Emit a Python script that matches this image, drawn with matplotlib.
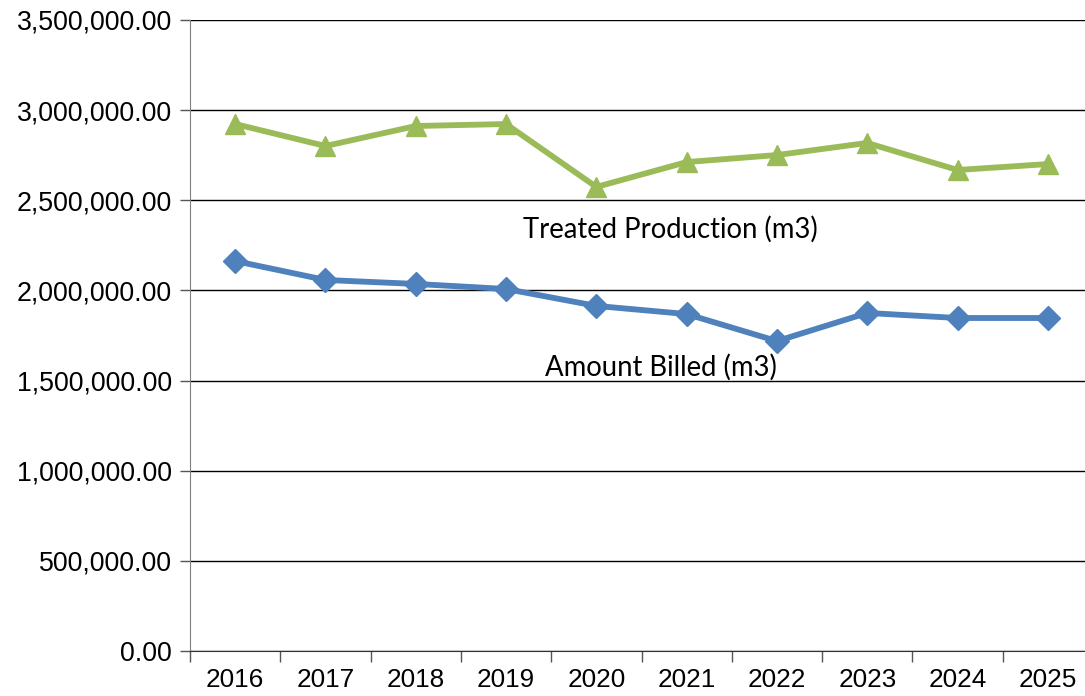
import matplotlib
matplotlib.use("Agg")
import matplotlib.pyplot as plt
from matplotlib.ticker import FuncFormatter, FixedLocator

plt.rcParams["font.family"] = ["Liberation Sans", "DejaVu Sans"]

years = ["2016", "2017", "2018", "2019", "2020", "2021", "2022", "2023", "2024", "2025"]
treated_production = [2923000, 2801000, 2912000, 2923000, 2574000, 2712000, 2751000, 2818000, 2668000, 2701000]
amount_billed = [2163000, 2058000, 2036000, 2008000, 1914000, 1869000, 1719000, 1875000, 1847000, 1847000]

fig = plt.figure(figsize=(10.85, 6.96), dpi=100)
ax = fig.add_axes([190/1085, 45/696, 903/1085, 631/696])

x = list(range(len(years)))
ax.plot(x, amount_billed, color="#4F81BD", lw=4.2, marker="D", ms=12.5, zorder=3)
ax.plot(x, treated_production, color="#9BBB59", lw=4.2, marker="^", ms=15, zorder=3)

ax.set_xlim(-0.5, len(years) - 0.5)
ax.set_ylim(0, 3500000)
ax.set_yticks(range(0, 3500001, 500000))
ax.yaxis.set_major_formatter(FuncFormatter(lambda v, p: f"{v:,.2f}"))
ax.grid(axis="y", color="black", lw=1.0, zorder=0)
ax.set_axisbelow(True)

ax.set_xticks(x)
ax.set_xticklabels(years)
ax.xaxis.set_minor_locator(FixedLocator([i - 0.5 for i in range(len(years) + 1)]))
ax.tick_params(axis="x", which="major", length=0, pad=12, labelsize=18.8)
ax.tick_params(axis="x", which="minor", length=8, color="#555555", width=1)
ax.tick_params(axis="y", length=7, color="#555555", width=1, pad=6, labelsize=19.3)

for s in ["top", "right"]:
    ax.spines[s].set_visible(False)
ax.spines["left"].set_color("#808080")
ax.spines["bottom"].set_color("#333333")

ax.text(4.82, 2341000, "Treated Production (m3)", ha="center", va="center",
        fontfamily="Lato", fontsize=19.8, color="black")
ax.text(4.72, 1575000, "Amount Billed (m3)", ha="center", va="center",
        fontfamily="Lato", fontsize=19.8, color="black")

fig.savefig("out.png", dpi=100)
